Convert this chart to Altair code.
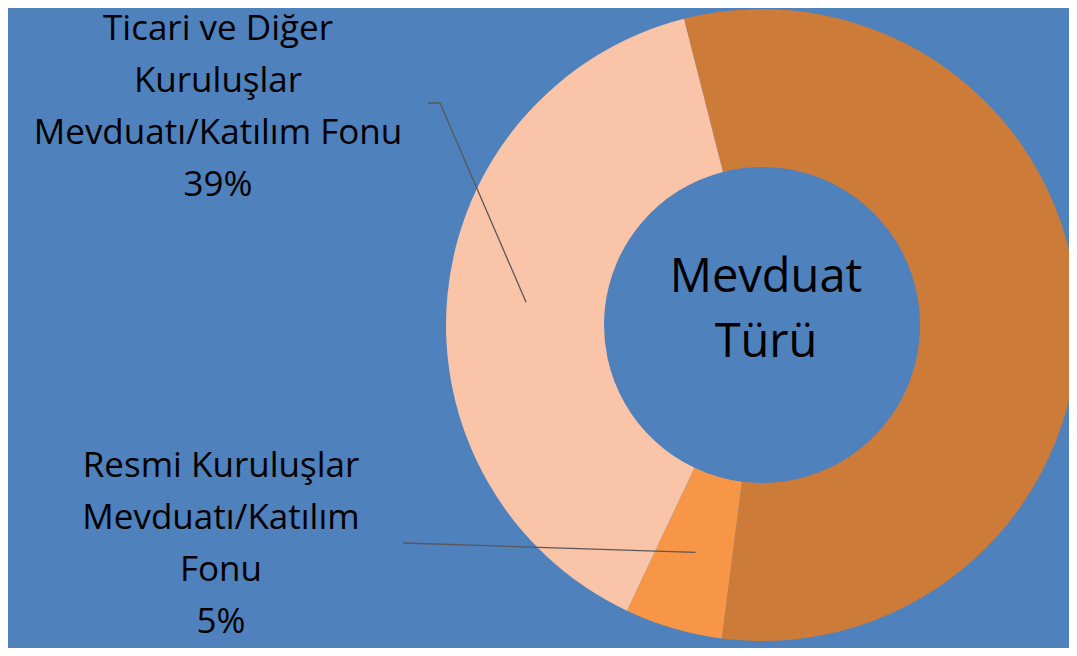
import math
import altair as alt
import pandas as pd

# ---- data ----
categories = ["Tasarruf Mevduatı/Katılım Fonu",
              "Resmi Kuruluşlar Mevduatı/Katılım Fonu",
              "Ticari ve Diğer Kuruluşlar Mevduatı/Katılım Fonu"]
shares = [56, 5, 39]
label_texts = ["", "Resmi Kuruluşlar\nMevduatı/Katılım\nFonu\n5%",
               "Ticari ve Diğer\nKuruluşlar\nMevduatı/Katılım Fonu\n39%"]
center_title = "Mevduat\nTürü"

# ---- layout / style ----
W, H = 1061, 640          # chart area (page origin offset 8px)
OFF = 8
CX, CY = 762, 325         # donut center in page pixels
R_OUT, R_IN = 316, 158
START_DEG = -14.3
colors = ["#CC7B38", "#F79646", "#F9C4A8"]
bg = "#4F81BD"
FONT = "Open Sans"

start = math.radians(START_DEG) + 2 * math.pi
theta_range = [start, start + 2 * math.pi]

df = pd.DataFrame({"cat": categories, "value": shares, "order": [0, 1, 2]})

xs = alt.Scale(domain=[OFF, OFF + W], range=[0, W])
ys = alt.Scale(domain=[OFF, OFF + H], range=[0, H])

donut = alt.Chart(df).mark_arc(outerRadius=R_OUT, innerRadius=R_IN, stroke=None).encode(
    theta=alt.Theta("value:Q", stack=True, scale=alt.Scale(range=theta_range)),
    order=alt.Order("order:Q"),
    color=alt.Color("cat:N", scale=alt.Scale(domain=categories, range=colors), legend=None),
    x=alt.value(CX - OFF),
    y=alt.value(CY - OFF),
)

# leader lines: from label anchor to mid-ring point at slice midpoint
total = sum(shares)
cum = 0
mids = []
for v in shares:
    a = START_DEG + 360 * (cum + v / 2) / total
    cum += v
    mids.append(a)
r_mid = (R_OUT + R_IN) / 2
anchors = {1: [(403, 543)], 2: [(428, 103), (440, 103)]}
rows = []
for i, pts in anchors.items():
    a = math.radians(mids[i])
    end = (CX + r_mid * math.sin(a), CY - r_mid * math.cos(a))
    for k, (px, py) in enumerate(pts + [end]):
        rows.append({"cat": categories[i], "k": k, "px": px, "py": py})
lines_df = pd.DataFrame(rows)

leaders = alt.Chart(lines_df).mark_line(color="#595959", strokeWidth=1.3).encode(
    x=alt.X("px:Q", scale=xs, axis=None),
    y=alt.Y("py:Q", scale=ys, axis=None),
    detail="cat:N",
    order="k:Q",
)

label_pos = {1: (221, 477), 2: (218, 40)}
lab_df = pd.DataFrame([{"t": label_texts[i], "px": p[0], "py": p[1]} for i, p in label_pos.items()])
labels = alt.Chart(lab_df).mark_text(
    font=FONT, fontSize=35, lineHeight=52, lineBreak="\n", align="center",
    baseline="alphabetic", color="black"
).encode(
    x=alt.X("px:Q", scale=xs, axis=None),
    y=alt.Y("py:Q", scale=ys, axis=None),
    text="t:N",
)

center_df = pd.DataFrame([{"t": center_title, "px": 766, "py": 292}])
center = alt.Chart(center_df).mark_text(
    font=FONT, fontSize=47, lineHeight=65, lineBreak="\n", align="center",
    baseline="alphabetic", color="black"
).encode(
    x=alt.X("px:Q", scale=xs, axis=None),
    y=alt.Y("py:Q", scale=ys, axis=None),
    text="t:N",
)

chart = alt.layer(donut, leaders, labels, center).properties(
    width=W, height=H, background=bg, padding=0,
    autosize=alt.AutoSizeParams(type="none"),
).configure_view(stroke=None)

chart.save("out.html", embed_options={"renderer": "svg", "actions": False})
